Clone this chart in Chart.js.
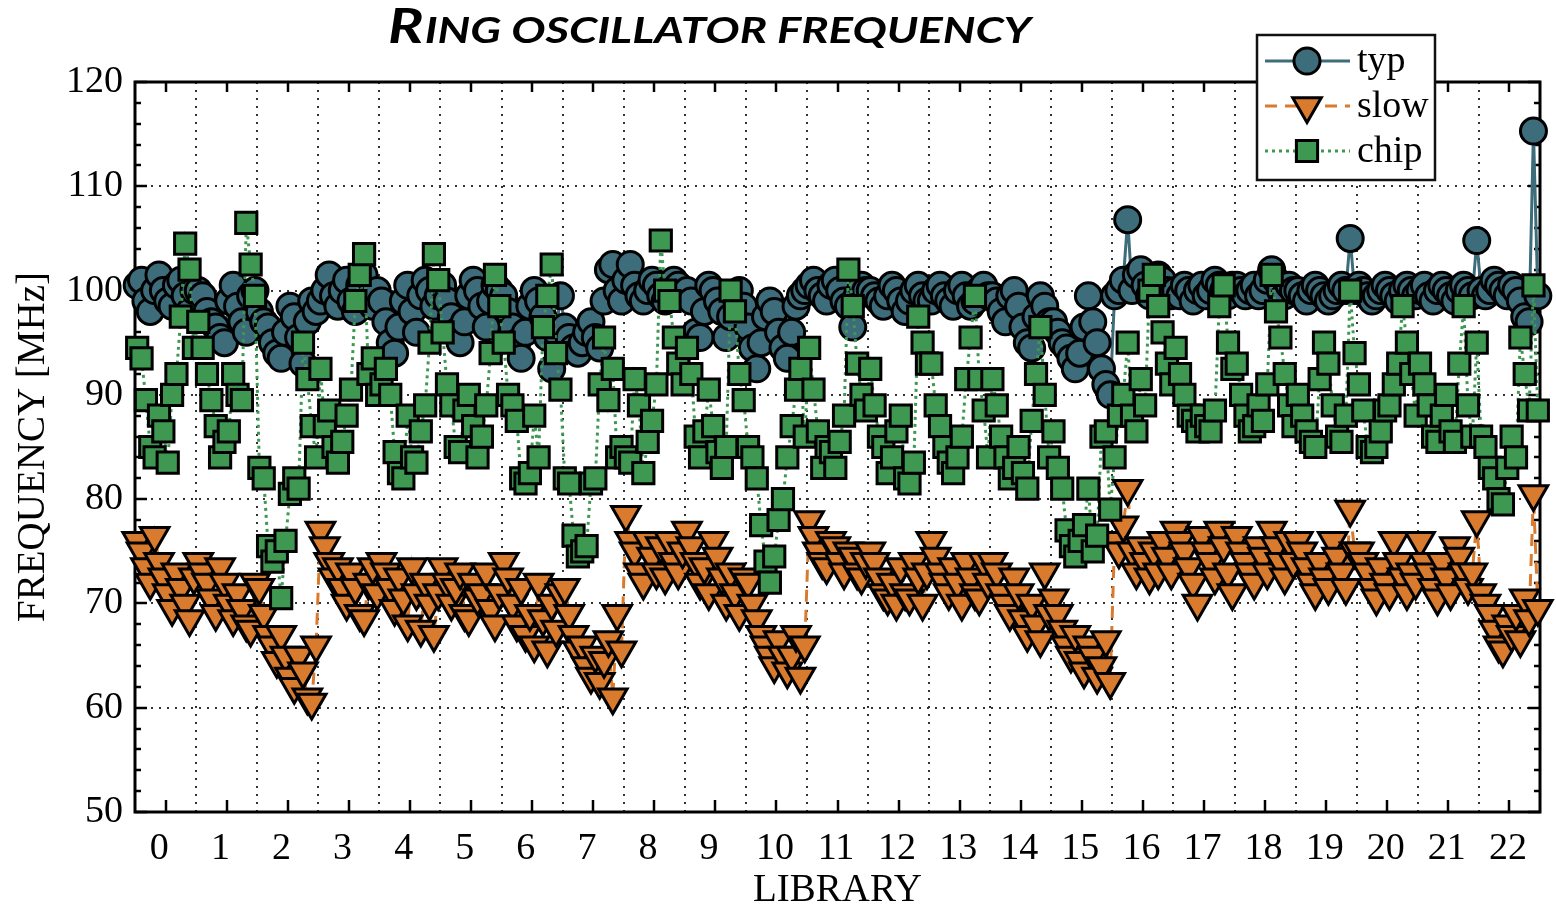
<!DOCTYPE html>
<html><head><meta charset="utf-8">
<script src="https://cdn.jsdelivr.net/npm/chart.js@4.4.0/dist/chart.umd.min.js"></script>
<style>html,body{margin:0;padding:0;background:#fff;}canvas{display:block;}</style>
</head><body>
<canvas id="c" width="1556" height="910"></canvas>
<script>
// ---------- data ----------
const libraries = [0,1,2,3,4,5,6,7,8,9,10,11,12,13,14,15,16,17,18,19,20,21,22];
const yTickValues = [50,60,70,80,90,100,110,120];
const seriesNames = ['typ','slow','chip'];

const typMHz = [
 [100.5,101,99,98,100,101.5,100,99,98.5,100.5,101,99.5,98,100],
 [100,99.5,98,97,96.5,95.5,95,99,100.5,98.5,97,96,99.5,100],
 [98,97,96.5,95,94,93.5,96,98.5,97.5,95.5,93,97,99,98],
 [99,100,101.5,99.5,98.5,100,101,99,98,100.5,101.5,99.5,98.5,100],
 [99,97,95,94,96.5,99,100.5,98,96,99.5,101,100,98.5,99.5],
 [100.5,99,97.5,96,95,97,99.5,101,100,98.5,96.5,99,100.5,100],
 [99.5,98,96.5,95,93.5,96,98.5,100,99,97.5,95.5,92.5,96,99.5],
 [96.5,95.5,94.5,94,95,96,97,95.5,94.5,99,102,102.5,100,99],
 [101,102.5,100.5,99.5,99,100,101,100.5,99.5,99,100,101,100.5,99.5],
 [100,99,96,95.5,98,100.5,100,99,98,95.5,97.5,99.5,100,98.5],
 [96.5,94.5,92.5,95,97.5,99,98,96,94.5,93.5,96,98.5,99.5,100],
 [100.5,101,100,99.5,99,100.5,101,100,99,98.5,96.5,99.5,100.5,100],
 [100,99.5,99,98.5,99.5,100.5,100,99,98,99,100,100.5,99.5,99],
 [99,100,100.5,99.5,99,98.5,100,100.5,99.5,98.5,99,100,100.5,99.5],
 [99.5,99,98,97,99.5,100,98.5,96.5,95,94.5,97.5,99.5,98.5,97],
 [97,96,95,94.5,93.5,92.5,94,96.5,99.5,97,95,92.5,91,90],
 [99.5,100,101,106.8,100,101.5,102,100.5,99.5,100,101.5,101,100,99.5],
 [100,99.5,100.5,100,99,100,100.5,99.5,100,101,100.5,100,99.5,100.5],
 [100.5,100,99.5,100,100.5,99.5,100,101,102,101,100,99.5,100.5,100],
 [100,99.5,99,100,100.5,100,99.5,99,99.5,100,100.5,100,105,100],
 [100.5,100,99.5,99,99.5,100,100.5,100,99.5,99,100,100.5,100,99.5],
 [100,100.5,99.5,99,100,100.5,100,99.5,99,100,100.5,100,99.5,104.8],
 [100,99.5,100,101,100.5,100,99.5,100.5,100,99,97.5,97,115.3,99.5]
];

const slowMHz = [
 [76,75,73.5,72,76.5,74,72.5,71,69.5,73,71.5,70,68.5,72.5],
 [74,73,72,70.5,69,73.5,72,70,68.5,71,69.5,68,67.5,72],
 [71.5,69,67,66,64.5,67,65,63,62,65,63.5,61,60.5,66],
 [77,75.5,74,72.5,73.5,71.5,70,73,71.5,69,68.5,72,73.5,71],
 [74,73,71.5,69.5,72.5,70.5,68,73.5,71,67.5,72,70,67,71],
 [73.5,72,70,71.5,73,69,68.5,72,70.5,71,73,69.5,68,71],
 [74,72.5,70,68,71.5,67,69,66,72,68.5,65.5,70,67.5,71],
 [71.5,69,67,65.5,66,64,63,65,62.5,64.5,66.5,61,69,65.5],
 [78.5,76,75,73,72,76,74.5,73,75.5,72.5,76,74,73,75],
 [77,75.5,74,72,73.5,71,76,74.5,72.5,70,73,71,69,72.5],
 [72,70,68.5,67,66,65,64,66.5,65,63.5,65,67,63,66],
 [78,76.5,75,74,73.5,76,75.5,74,73,75,74.5,73,72.5,74],
 [75,74,72.5,71,70.5,72,70,73.5,71,70.5,74,72.5,70,73],
 [76,74.5,73,72,71,73.5,72,70,74,72.5,71,70.5,74,72],
 [74,73,71,70,69,72.5,71,68.5,67,70,68,66.5,73,69],
 [70.5,69,67.5,66,65,67,64.5,63.5,66,65,63,64,66.5,62.5],
 [76,75,77.5,81,75,73,75.5,74,72.5,75,73,76,74.5,73],
 [77,76,75,73.5,72,70,76.5,75,74,72.5,77,75.5,73,71],
 [76.5,75,74,73,72,75.5,74.5,73,77,75.5,74,72.5,76,74],
 [76,75,73.5,72,71,74,72.5,71.5,76,74.5,73,71.5,79,75],
 [75,74,73,71.5,70.5,73.5,72,71,76,74,72.5,71,73,72],
 [76,74,73,71.5,70.5,74,72.5,71,75.5,74.5,73,71.5,73,78],
 [71,70,69,67.5,66,65.5,68,67,69,66.5,70.5,68.5,80.5,69.5]
];

const chipMHz = [
 [94.5,93.5,89.5,85,84,88,86.5,83.5,90,92,97.5,104.5,102,94.5],
 [97,94.5,92,89.5,87,84,85.5,86.5,92,90,89.5,106.5,102.5,99.5],
 [83,82,75.5,74,75,70.5,76,80.5,82,81,95,91.5,87,84],
 [92.5,87,88.5,85,83.5,85.5,88,90.5,99,101.5,103.5,92,93.5,90],
 [91,92.5,90,84.5,82.5,82,88,84,83.5,86.5,89,95,103.5,101],
 [96,91,89,85,84.5,88.5,90,87,84,86,89,94,101.5,98.5],
 [95,90,89,87.5,82,81.5,82.5,88,84,96.5,99.5,102.5,94,90.5],
 [82,81.5,76.5,74.5,75,75.5,81.5,82,91,95.5,89.5,92.5,84,85],
 [84,83.5,91.5,89,82.5,85.5,87.5,91,104.8,100,99,95.5,93,91],
 [94.5,92,86,84,86.5,90.5,87,84.5,83,85,100,98,92,89.5],
 [85,84,82,77.5,74,72,74.5,78,80,84,87,90.5,92.5,86],
 [94.5,90.5,86.5,83,85,84.5,83,85.5,88,102,98.5,93,90,88.5],
 [92.5,89,86,85,82.5,84,86.5,88,82,81.5,83.5,97.5,95,93],
 [93,89,87,85,83.5,82.5,84,86,91.5,95.5,99.5,91.5,88.5,84],
 [91.5,89,86,84,82,83,85,82.5,81,87.5,92,96.5,90,84],
 [86.5,83,81,77,75.5,74.5,76,77.5,81,75,76.5,86,86.5,79],
 [84,88,90,95,88,86.5,91.5,89,100,101.5,98.5,96,93,91],
 [94.5,92,90,88,87.5,86.5,88,87,86.5,88.5,98.5,100.5,95,92.5],
 [93,90,88,86.5,87,89,87.5,91,101.5,98,95.5,92,89,87],
 [90,88,86.5,85.5,85,91.5,95,93,89,86,85.5,88,100,94],
 [91,88.5,85,84.5,85,86.5,88.5,89,91,93,98.5,95,92,88],
 [93,91,89,86,85.5,88,90,86.5,85.5,93,98.5,89,86,95],
 [86,85,83,82,80,79.5,83,86,84,95.5,92,88.5,100.5,88.5]
];

// ---------- helpers ----------
function toPoints(rows) {
  const pts = [];
  rows.forEach((row, l) => row.forEach((v, j) => {
    pts.push({ x: libraries[l] - 0.5 + (j + 0.5) / row.length, y: v });
  }));
  return pts;
}

const SERIF = '"Liberation Serif", "DejaVu Serif", serif';
const colTyp = '#3d6c7b', colSlow = '#d97b2e', colChip = '#3f9852';

const frameAndGrid = {
  id: 'frameAndGrid',
  beforeDatasetsDraw(chart) {
    const { ctx, chartArea: { left, right, top, bottom }, scales: { x, y } } = chart;
    ctx.save();
    ctx.strokeStyle = '#333';
    ctx.lineWidth = 2;
    ctx.setLineDash([2, 6]);
    const line = (x1, y1, x2, y2) => { ctx.beginPath(); ctx.moveTo(x1, y1); ctx.lineTo(x2, y2); ctx.stroke(); };
    yTickValues.forEach(t => {
      if (t > y.min && t < y.max) { const py = Math.round(y.getPixelForValue(t)); line(left, py, right, py); }
    });
    for (let l = 0; l < libraries.length - 1; l++) {
      const px = Math.round(x.getPixelForValue(libraries[l] + 0.5));
      line(px, top, px, bottom);
    }
    ctx.setLineDash([]);
    ctx.strokeStyle = '#000';
    ctx.lineWidth = 2.5;
    for (let v = y.min; v <= y.max; v += 2) {
      const py = Math.round(y.getPixelForValue(v));
      const len = (v % 10 === 0) ? 12 : 6;
      line(left, py, left + len, py);
      line(right - len, py, right, py);
    }
    libraries.forEach(l => {
      const px = Math.round(x.getPixelForValue(l));
      line(px, bottom, px, bottom - 12);
      line(px, top, px, top + 10);
    });
    ctx.lineWidth = 3;
    ctx.strokeRect(left, top, right - left, bottom - top);
    ctx.restore();
  }
};

const titleAndLegend = {
  id: 'titleAndLegend',
  afterDraw(chart) {
    const { ctx } = chart;
    ctx.save();
    // title (small caps)
    const big = 'bold italic 48px Lato, "Open Sans", sans-serif';
    const small = 'bold italic 37px Lato, "Open Sans", sans-serif';
    const first = 'R', rest = 'ING OSCILLATOR FREQUENCY';
    ctx.font = big; const w1 = ctx.measureText(first).width;
    ctx.font = small; const w2 = ctx.measureText(rest).width;
    const targetW = 642, x0 = 388, base = 43;
    const sx = targetW / (w1 + w2);
    ctx.translate(x0, base);
    ctx.scale(sx, 1);
    ctx.fillStyle = '#000';
    ctx.textBaseline = 'alphabetic';
    ctx.textAlign = 'left';
    ctx.font = big; ctx.fillText(first, 0, 0);
    ctx.font = small; ctx.fillText(rest, w1 + 1, 0);
    ctx.restore();

    // legend
    ctx.save();
    const bx = 1257, by = 35, bw = 178, bh = 145;
    ctx.fillStyle = '#fff';
    ctx.fillRect(bx, by, bw, bh);
    ctx.strokeStyle = '#111';
    ctx.lineWidth = 2.5;
    ctx.strokeRect(bx, by, bw, bh);
    chart.data.datasets.forEach((ds, i) => {
      const cy = 61 + i * 45;
      ctx.save();
      ctx.strokeStyle = ds.borderColor;
      ctx.lineWidth = ds.borderWidth;
      ctx.setLineDash(ds.borderDash || []);
      ctx.beginPath(); ctx.moveTo(1265, cy); ctx.lineTo(1350, cy); ctx.stroke();
      ctx.setLineDash([]);
      ctx.fillStyle = ds.pointBackgroundColor;
      ctx.strokeStyle = ds.pointBorderColor;
      ctx.lineWidth = ds.pointBorderWidth;
      Chart.helpers.drawPoint(ctx, {
        pointStyle: ds.pointStyle, rotation: ds.pointRotation || 0,
        radius: ds.pointRadius, borderWidth: ds.pointBorderWidth
      }, 1307, cy);
      ctx.restore();
      ctx.fillStyle = '#000';
      ctx.font = '38px ' + SERIF;
      ctx.textBaseline = 'middle';
      ctx.textAlign = 'left';
      ctx.fillText(ds.label, 1357, cy + 1);
    });
    ctx.restore();
  }
};

new Chart(document.getElementById('c'), {
  type: 'line',
  data: {
    datasets: [
      {
        label: seriesNames[0], data: toPoints(typMHz), order: 3,
        borderColor: colTyp, borderWidth: 3, pointStyle: 'circle', pointRadius: 13,
        pointBackgroundColor: colTyp, pointBorderColor: '#000', pointBorderWidth: 3, clip: false
      },
      {
        label: seriesNames[1], data: toPoints(slowMHz), order: 2,
        borderColor: colSlow, borderWidth: 3, borderDash: [12, 8], pointStyle: 'triangle', pointRotation: 180,
        pointRadius: 16.5, pointBackgroundColor: colSlow, pointBorderColor: '#000', pointBorderWidth: 3, clip: false
      },
      {
        label: seriesNames[2], data: toPoints(chipMHz), order: 1,
        borderColor: colChip, borderWidth: 3, borderDash: [3, 4], pointStyle: 'rect', pointRadius: 15,
        pointBackgroundColor: colChip, pointBorderColor: '#000', pointBorderWidth: 3, clip: false
      }
    ]
  },
  options: {
    responsive: false,
    animation: false,
    devicePixelRatio: 1,
    events: [],
    layout: { autoPadding: false, padding: { top: 82, right: 16, left: 0, bottom: 0 } },
    elements: { line: { tension: 0 } },
    plugins: { legend: { display: false }, tooltip: { enabled: false }, title: { display: false } },
    scales: {
      x: {
        type: 'linear', min: -0.5, max: 22.5,
        grid: { display: false, drawTicks: false },
        border: { display: false },
        afterBuildTicks: s => { s.ticks = libraries.map(v => ({ value: v })); },
        ticks: {
          autoSkip: false, maxRotation: 0, minRotation: 0,
          padding: 14, labelOffset: -1.5, color: '#000',
          font: { family: SERIF, size: 38 },
          callback: v => (String(v).length === 1 ? String(v) + ' ' : String(v))
        },
        title: { display: true, text: 'LIBRARY', color: '#000', font: { family: SERIF, size: 39, lineHeight: 1 }, padding: { top: 0, bottom: 0 } },
        afterFit: s => { s.height = 98; }
      },
      y: {
        min: 50, max: 120,
        grid: { display: false, drawTicks: false },
        border: { display: false },
        afterBuildTicks: s => { s.ticks = yTickValues.map(v => ({ value: v })); },
        ticks: { padding: 12, color: '#000', font: { family: SERIF, size: 38 } },
        title: { display: true, text: 'FREQUENCY [MHz]', color: '#000', font: { family: SERIF, size: 39, lineHeight: 1 }, padding: { top: 14, bottom: 0 } },
        afterFit: s => { s.width = 135; }
      }
    }
  },
  plugins: [frameAndGrid, titleAndLegend]
});
</script>
</body></html>
